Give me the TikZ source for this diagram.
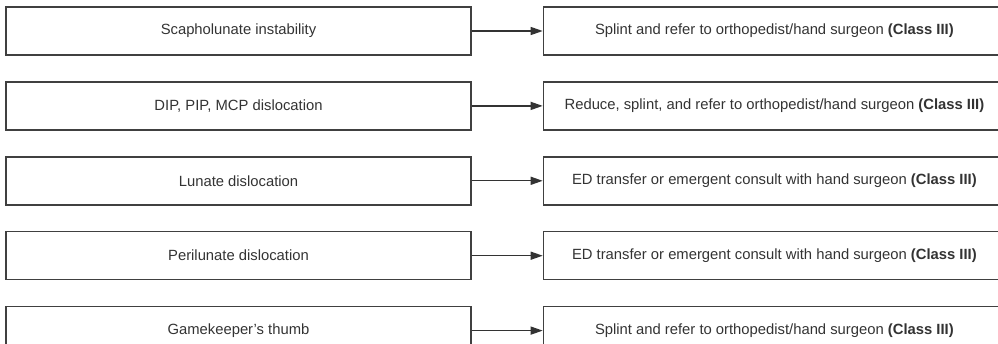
\documentclass[tikz,border=0pt]{standalone}
\usepackage{fontspec}
\setmainfont{Liberation Sans}
\usetikzlibrary{positioning,arrows.meta}

\begin{document}
\begin{tikzpicture}[x=1pt,y=1pt]
	\tikzset{condbox/.style={draw=black!75,line width=1.4pt,minimum width=465pt,minimum height=48pt,inner sep=0pt,text=black!80,font=\fontsize{14.8}{17}\selectfont}}
	\tikzset{actbox/.style={condbox,minimum width=462pt}}
	\tikzset{toact/.style={draw=black!80,line width=1.3pt,-{Triangle[length=12pt,width=8pt]}}}
	\useasboundingbox (0,0) rectangle (998,-343);
	\clip (0,0) rectangle (998,-343);
	\node[condbox] (scaph) at (238.5,-31) {Scapholunate instability};
	\node[condbox,below=25.5pt of scaph] (dip) {DIP, PIP, MCP dislocation};
	\node[condbox,below=25.5pt of dip] (lunate) {Lunate dislocation};
	\node[condbox,below=25.5pt of lunate] (peril) {Perilunate dislocation};
	\node[condbox,below=25.5pt of peril] (gamek) {Gamekeeper's thumb};
	\node[actbox,right=71pt of scaph] (splint) {Splint and refer to orthopedist/hand surgeon \textbf{(Class III)}};
	\node[actbox,right=71pt of dip] (reduce) {Reduce, splint, and refer to orthopedist/hand surgeon \textbf{(Class III)}};
	\node[actbox,right=71pt of lunate] (transfa) {ED transfer or emergent consult with hand surgeon \textbf{(Class III)}};
	\node[actbox,right=71pt of peril] (transfb) {ED transfer or emergent consult with hand surgeon \textbf{(Class III)}};
	\node[actbox,right=71pt of gamek] (splintb) {Splint and refer to orthopedist/hand surgeon \textbf{(Class III)}};
	\draw[toact] (scaph) -- (splint);
	\draw[toact] (dip) -- (reduce);
	\draw[toact] (lunate) -- (transfa);
	\draw[toact] (peril) -- (transfb);
	\draw[toact] (gamek) -- (splintb);
\end{tikzpicture}
\end{document}
